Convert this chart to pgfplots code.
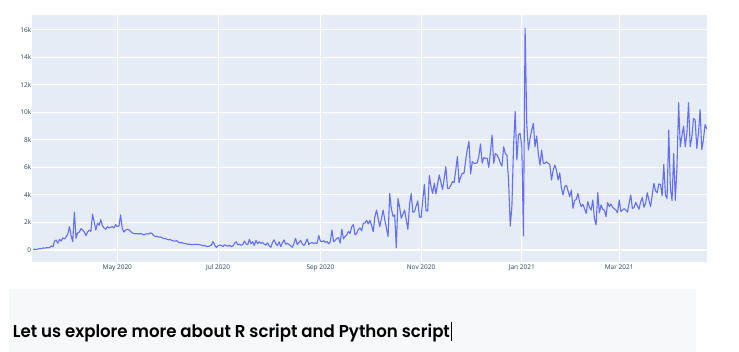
\documentclass[border=0pt]{standalone}
\usepackage{pgfplots}
\pgfplotsset{compat=1.18}
\usepackage{pgfplotstable}
\usepackage{graphicx}
\usepackage{fontspec}
\setmainfont{Open Sans}
\newfontfamily\popp{Poppins}[UprightFont=* SemiBold]
\definecolor{plotbg}{HTML}{E5ECF6}
\definecolor{linec}{HTML}{636EFA}
\definecolor{tickc}{HTML}{2A3F5F}
\definecolor{boxc}{HTML}{F7F8FA}
\pgfplotstableread{
day val
-51 30
-50 60
-49 20
-48 80
-47 100
-46 90
-45 150
-44 130
-43 170
-42 160
-41 180
-40 300
-39 220
-38 650
-37 720
-36 480
-35 780
-34 650
-33 880
-32 800
-31 950
-30 1150
-29 1700
-28 1050
-27 600
-26 2750
-25 850
-24 1250
-23 1300
-22 1550
-21 1450
-20 1300
-19 1050
-18 1300
-17 1450
-16 1350
-15 2600
-14 2050
-13 1450
-12 1950
-11 1800
-10 2200
-9 1750
-8 1600
-7 1500
-6 1700
-5 1600
-4 1650
-3 1700
-2 1600
-1 1850
0 1700
1 1750
2 2550
3 1550
4 1300
5 1450
6 1500
7 1480
8 1350
9 1250
10 1200
11 1180
12 1200
13 1150
14 1200
15 1150
16 1100
17 1150
18 1180
19 1150
20 1250
21 1200
22 1050
23 980
24 1000
25 930
26 950
27 900
28 830
29 850
30 780
31 740
32 760
33 700
34 660
35 640
36 680
37 560
38 520
39 540
40 480
41 470
42 440
43 410
44 430
45 380
46 400
47 420
48 390
49 410
50 380
51 350
52 300
53 330
54 260
55 250
56 300
57 350
58 600
59 350
60 180
61 300
62 360
63 320
64 260
65 380
66 310
67 280
68 350
69 240
70 300
71 480
72 600
73 370
74 420
75 350
76 400
77 650
78 450
79 380
80 780
81 450
82 600
83 330
84 700
85 450
86 600
87 480
88 550
89 420
90 360
91 520
92 300
93 200
94 550
95 730
96 450
97 330
98 600
99 250
100 520
101 730
102 420
103 480
104 400
105 300
106 200
107 480
108 850
109 380
110 550
111 700
112 450
113 320
114 520
115 800
116 400
117 500
118 550
119 470
120 520
121 480
122 1050
123 650
124 600
125 680
126 550
127 620
128 450
129 600
130 1450
131 600
132 700
133 850
134 900
135 500
136 1500
137 800
138 1000
139 1100
140 1350
141 1200
142 1700
143 1850
144 1100
145 1200
146 1500
147 1600
148 1400
149 1950
150 1950
151 2150
152 1900
153 2150
154 1800
155 1330
156 2400
157 2900
158 2300
159 1700
160 2300
161 2900
162 2180
163 1600
164 970
165 4100
166 3000
167 2450
168 2550
169 150
170 3750
171 3100
172 2300
173 2600
174 2900
175 2200
176 1500
177 3300
178 4100
179 2750
180 2780
181 3200
182 3560
183 2400
184 2350
185 3600
186 4770
187 2850
188 2830
189 5400
190 4600
191 4100
192 4840
193 4070
194 4800
195 5450
196 4900
197 4400
198 5200
199 6050
200 4480
201 4480
202 4700
203 4960
204 4900
205 5800
206 6780
207 4890
208 5300
209 5570
210 5570
211 6500
212 7300
213 7870
214 5520
215 6420
216 6300
217 6300
218 6340
219 6800
220 7700
221 6300
222 6700
223 6660
224 6660
225 6000
226 7100
227 8350
228 6300
229 7000
230 6900
231 6660
232 6300
233 6100
234 7500
235 7020
236 6900
237 5000
238 1740
239 3150
240 7500
241 10050
242 6540
243 8350
244 8470
245 7500
246 1020
247 16100
248 9200
249 7260
250 8110
251 8700
252 9200
253 7500
254 8280
255 7000
256 6170
257 7260
258 6300
259 6300
260 6400
261 6300
262 6200
263 5080
264 5800
265 6170
266 5810
267 5084
268 5600
269 4500
270 4000
271 4600
272 4700
273 4300
274 3870
275 4360
276 3030
277 3600
278 3680
279 4100
280 3500
281 3150
282 3320
283 3000
284 2660
285 3510
286 3100
287 2900
288 3630
289 2300
290 1820
291 4160
292 2700
293 3270
294 2950
295 2900
296 2420
297 3440
298 3150
299 3340
300 3100
301 3000
302 2900
303 2700
304 3630
305 2800
306 2900
307 3000
308 2900
309 2750
310 3400
311 4000
312 3000
313 3100
314 3450
315 3200
316 2960
317 3500
318 3800
319 3100
320 3400
321 4160
322 3630
323 3150
324 4000
325 4840
326 4300
327 4160
328 4800
329 4750
330 3950
331 6220
332 4000
333 3750
334 8700
335 4500
336 3600
337 7000
338 3600
339 6000
340 10700
341 7500
342 8300
343 9000
344 7500
345 8500
346 10700
347 7500
348 8200
349 9560
350 9440
351 7380
352 8500
353 10200
354 7300
355 8000
356 9100
357 8800
}\cases

\begin{document}
\begin{tikzpicture}
\useasboundingbox (0pt,0pt) rectangle (739pt,352pt);
\fill[white] (0pt,0pt) rectangle (739pt,352pt);
\fill[boxc] (9pt,0pt) rectangle (696pt,63pt);
\begin{axis}[
  at={(32pt,90pt)}, anchor=south west,
  scale only axis, width=675pt, height=247pt,
  xmin=-51.67, xmax=357.18, ymin=-871, ymax=17066,
  axis background/.style={fill=plotbg},
  axis line style={draw=none},
  major tick length=0pt,
  xmajorgrids, ymajorgrids,
  grid style={white, line width=0.9pt},
  xtick={0,61,123,184,245,304},
  xticklabels={May 2020,Jul 2020,Sep 2020,Nov 2020,Jan 2021,Mar 2021},
  ytick={2000,4000,6000,8000,10000,12000,14000,16000},
  yticklabels={2k,4k,6k,8k,10k,12k,14k,16k},
  extra y ticks={0}, extra y tick labels={0},
  extra y tick style={major grid style={white, line width=1.8pt}},
  ticklabel style={font=\fontsize{6.5}{7}\selectfont, text=tickc},
  yticklabel style={inner sep=0.6pt},
  xticklabel style={inner sep=0pt, yshift=-2.5pt},
  scaled y ticks=false,
  clip=true,
]
\addplot[linec, line width=1.1pt, line join=round] table[x=day, y=val] {\cases};
\end{axis}
\node[anchor=base west, inner sep=0pt] at (12.7pt,14.7pt) {\resizebox{437pt}{13.5pt}{\popp Let us explore more about R script and Python script}};
\draw[black, line width=0.8pt] (451.5pt,30.3pt) -- (451.5pt,11.3pt);
\end{tikzpicture}
\end{document}
